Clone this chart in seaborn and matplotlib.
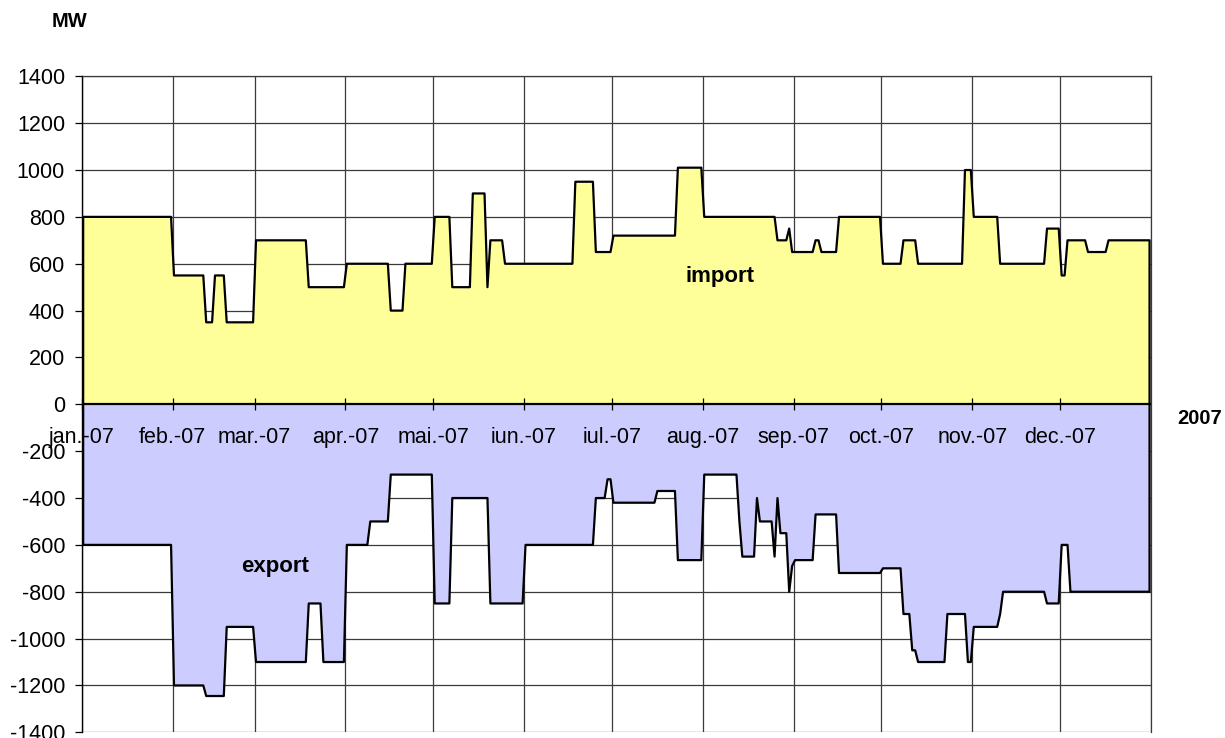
import numpy as np
import pandas as pd
import matplotlib
matplotlib.use("Agg")
import matplotlib.pyplot as plt
import seaborn as sns

# daily cross-border capacity 2007, stored as runs: first day (0 = 1 Jan) and MW
imp_start = [0, 31, 42, 45, 49, 59, 77, 90, 105, 110, 120, 126, 133, 138, 139, 144,
             168, 175, 181, 203, 212, 237, 241, 242, 250, 252, 258, 273, 280, 285,
             301, 304, 313, 329, 334, 336, 343, 350]
imp_mw = [800, 550, 350, 550, 350, 700, 500, 600, 400, 600, 800, 500, 900, 500, 700, 600,
          950, 650, 720, 1010, 800, 700, 750, 650, 700, 650, 800, 600, 700, 600,
          1000, 800, 600, 750, 550, 700, 650, 700]

exp_start = [0, 31, 42, 49, 59, 77, 82, 90, 98, 105, 120, 126, 139, 151, 175, 179,
             181, 196, 203, 212, 224, 225, 230, 231, 236, 237, 238, 241, 242, 243,
             250, 258, 273, 280, 283, 285, 295, 302, 304, 313, 314, 329, 334, 337]
exp_mw = [-600, -1200, -1245, -950, -1100, -850, -1100, -600, -500, -300, -850, -400,
          -850, -600, -400, -320, -420, -370, -665, -300, -500, -650, -400, -500,
          -650, -400, -550, -800, -690, -665, -470, -720, -700, -895, -1050, -1100,
          -895, -1100, -950, -895, -800, -850, -600, -800]

month_start = [0, 31, 59, 90, 120, 151, 181, 212, 243, 273, 304, 334, 365]
month_labels = ["jan.-07", "feb.-07", "mar.-07", "apr.-07", "mai.-07", "iun.-07",
                "iul.-07", "aug.-07", "sep.-07", "oct.-07", "nov.-07", "dec.-07"]
y_ticks = list(range(-1400, 1401, 200))

n_days = 365


def expand(starts, vals):
    lengths = np.diff(starts + [n_days])
    return np.repeat(vals, lengths)


df = pd.DataFrame({
    "day": np.arange(n_days) + 0.5,
    "import": expand(imp_start, imp_mw),
    "export": expand(exp_start, exp_mw),
})

sns.set_theme(style="white", rc={"text.color": "black", "xtick.color": "black",
                                 "ytick.color": "black", "axes.labelcolor": "black",
                                 "axes.axisbelow": False})
plt.rcParams["font.family"] = ["Liberation Sans", "DejaVu Sans"]
plt.rcParams["axes.unicode_minus"] = False

fig = plt.figure(figsize=(12.25, 7.38), dpi=100)
ax = fig.add_axes([0.0667, 0.0077, 0.8729, 0.8889])

# filled areas
ax.fill_between(df["day"], 0, df["import"], color="#FFFF99", lw=0, zorder=2)
ax.fill_between(df["day"], 0, df["export"], color="#CCCCFF", lw=0, zorder=2)

# outlines, closed down to the zero line at both ends
for col in ["import", "export"]:
    xs = pd.concat([df["day"].iloc[:1], df["day"], df["day"].iloc[-1:]])
    ys = pd.concat([pd.Series([0]), df[col], pd.Series([0])])
    outline = pd.DataFrame({"day": xs.values, "mw": ys.values})
    sns.lineplot(data=outline, x="day", y="mw", sort=False, estimator=None,
                 color="black", lw=1.6, ax=ax, zorder=3)
ax.axhline(0, color="black", lw=1.6, zorder=4)

ax.set_xlim(0, n_days)
ax.set_ylim(-1400, 1400)
ax.set_yticks(y_ticks)
ax.set_yticklabels([str(v) for v in y_ticks])
ax.set_xticks(month_start[:-1])
ax.set_xticklabels(month_labels)
ax.set_xlabel("")
ax.set_ylabel("")

# vertical month gridlines and horizontal value gridlines
for m in month_start:
    ax.axvline(m, color="#3a3a3a", lw=0.9, zorder=1)
for v in y_ticks:
    ax.axhline(v, color="#3a3a3a", lw=0.9, zorder=1)

# category axis sits on the zero line
ax.spines["bottom"].set_position(("data", 0))
ax.spines["bottom"].set_visible(False)
ax.tick_params(axis="x", direction="inout", length=8.6, width=0.9, color="black",
               pad=12, bottom=True, labelsize=15.5, labelcolor="black")
ax.tick_params(axis="y", direction="out", length=5, width=0.9, color="black",
               pad=7, left=True, labelsize=15.5, labelcolor="black")
for s in ["top", "right"]:
    ax.spines[s].set_color("#3a3a3a")
    ax.spines[s].set_linewidth(0.9)
ax.spines["left"].set_color("black")
ax.spines["left"].set_linewidth(1.0)

ax.text(218, 545, "import", fontsize=16, fontweight="bold", ha="center",
        va="center", zorder=5)
ax.text(66, -694, "export", fontsize=16, fontweight="bold", ha="center",
        va="center", zorder=5)

fig.text(0.057, 0.9706, "MW", fontsize=14.5, fontweight="bold", ha="center", va="center")
fig.text(0.979, 0.4336, "2007", fontsize=14.5, fontweight="bold", ha="center", va="center")

fig.savefig("out.png", dpi=100)
